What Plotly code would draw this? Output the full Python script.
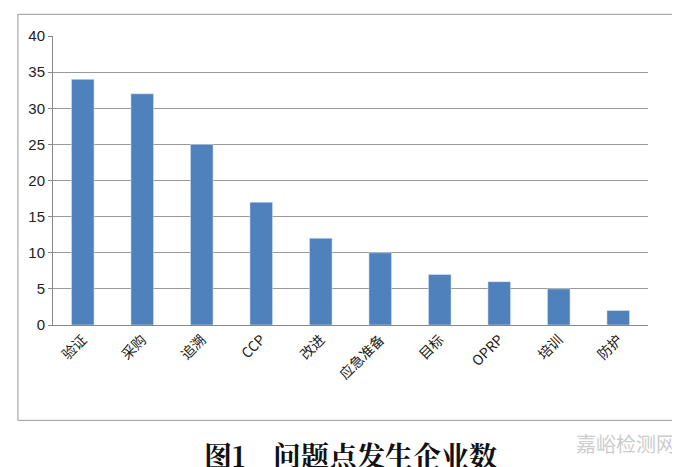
import plotly.graph_objects as go

categories = ["验证", "采购", "追溯", "CCP", "改进", "应急准备", "目标", "OPRP", "培训", "防护"]
values = [34, 32, 25, 17, 12, 10, 7, 6, 5, 2]

fig = go.Figure()
fig.add_trace(go.Bar(x=categories, y=values, marker_color="#4F81BD", width=0.38))

fig.update_layout(
    width=680, height=467,
    paper_bgcolor="white", plot_bgcolor="white",
    margin=dict(l=45, r=40, t=28, b=150),
    showlegend=False,
    font=dict(family="Noto Sans CJK SC", size=14, color="#222"),
    shapes=[dict(type="rect", xref="paper", yref="paper", x0=-0.059, x1=1.047, y0=-0.33, y1=1.075,
                 line=dict(color="#999", width=1))],
    annotations=[
        dict(text="<b>图1　问题点发生企业数</b>", xref="paper", yref="paper", x=0.5, y=-0.45,
             yanchor="middle", showarrow=False,
             font=dict(family="Noto Serif CJK SC, Noto Sans CJK SC", size=28, color="#111")),
        dict(text="嘉峪检测网", xref="paper", yref="paper", x=1.05, y=-0.41, xanchor="right",
             yanchor="middle", showarrow=False, font=dict(size=20, color="#ccc")),
        dict(text="AnyTesting.com", xref="paper", yref="paper", x=1.05, y=-0.51, xanchor="right",
             yanchor="middle", showarrow=False,
             font=dict(family="Liberation Sans", size=12, color="#ccc")),
    ],
)
fig.update_xaxes(tickangle=-45, showline=True, linecolor="#888", ticks="",
                 tickfont=dict(size=14))
fig.update_yaxes(range=[0, 40], dtick=5, gridcolor="#999", gridwidth=1, showline=True,
                 linecolor="#888", ticks="outside", ticklen=4, tickcolor="#888",
                 tickfont=dict(family="Liberation Sans", size=15))

fig.write_html("out.html")
